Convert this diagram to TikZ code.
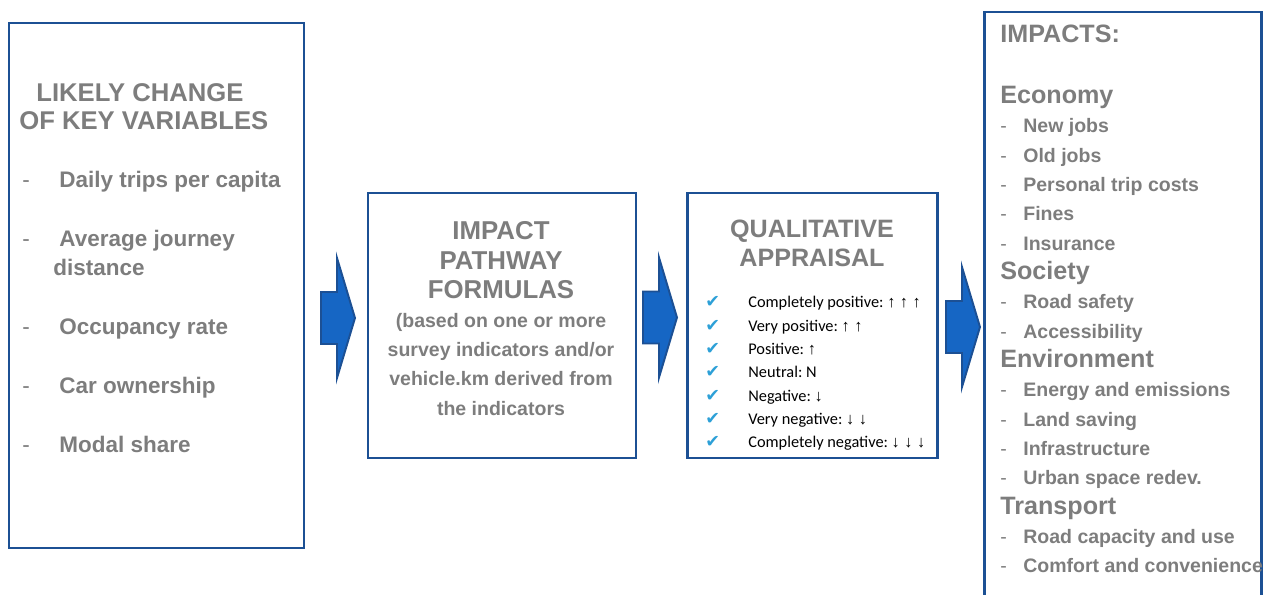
\documentclass[tikz,border=0pt]{standalone}
\usepackage{fontspec}
\setmainfont{Liberation Sans}
\newfontfamily\calfont{Carlito}
\newfontfamily\symfont{DejaVu Sans}
\newfontfamily\arrfont{Liberation Sans}
\usetikzlibrary{positioning}

\definecolor{frameblue}{RGB}{28,80,148}
\definecolor{arrowblue}{RGB}{22,102,196}
\definecolor{textgray}{RGB}{125,125,125}
\definecolor{tickblue}{RGB}{45,160,215}

\newcommand{\itm}[2]{\makebox[#1][l]{\mdseries -}#2}
\newcommand{\impitem}[1]{{\fontsize{11.1}{16.7}\selectfont\itm{0.46cm}{#1}}}
\newcommand{\chk}{\makebox[0.86cm][l]{\textcolor{tickblue}{\symfont\fontsize{10}{10}\selectfont ✔}}}

\begin{document}
\frenchspacing
\begin{tikzpicture}[
    panel/.style={rectangle, draw=frameblue, line width=1.7pt, inner sep=0pt, outer sep=0pt},
    gtext/.style={text=textgray, inner sep=0pt, font=\bfseries},
    arrowshape/.style={fill=arrowblue, draw=frameblue, line width=1.1pt, line join=miter},
    blockarrow/.pic={\draw[arrowshape] (0,0.52) -- (0.32,0.52) -- (0.32,1.2) -- (0.68,0)
        -- (0.32,-1.2) -- (0.32,-0.52) -- (0,-0.52) -- cycle;}]

    \useasboundingbox (0,0) rectangle (25.28,-11.9);

    % boxes
    \node[panel, minimum width=5.9cm, minimum height=10.5cm] (vars) at (3.13,-5.71) {};
    \node[panel, minimum width=5.36cm, minimum height=5.3cm] (paths) at (10.04,-6.51) {};
    \node[panel, minimum width=5.0cm, minimum height=5.3cm] (qual) at (16.24,-6.51) {};
    \node[panel, minimum width=5.54cm, minimum height=12.56cm] (impacts) at (22.45,-6.52) {};

    % block arrows
    \pic at (6.42,-6.36) {blockarrow};
    \pic at (12.86,-6.35) {blockarrow};
    \pic at (18.92,-6.54) {blockarrow};

    % likely change of key variables
    \node[gtext, anchor=base west, text width=5.6cm, align=flush left,
        font=\bfseries\fontsize{14.6}{15.9}\selectfont] (varstitle) at (0.38,-2.04)
        {\hspace*{0.34cm}LIKELY CHANGE\\OF KEY VARIABLES};
    \node[gtext, anchor=base west, text width=5.6cm, align=flush left,
        font=\bfseries\fontsize{12.8}{16.5}\selectfont] (varslist) at (0.44,-3.76)
        {\itm{0.74cm}{Daily trips per capita}\\[0.6cm]
         \itm{0.74cm}{Average journey}\\
         \hspace*{0.62cm}distance\\[0.6cm]
         \itm{0.74cm}{Occupancy rate}\\[0.6cm]
         \itm{0.74cm}{Car ownership}\\[0.6cm]
         \itm{0.74cm}{Modal share}};

    % impact pathway formulas
    \node[gtext, anchor=base, text width=5.3cm, align=flush center,
        font=\bfseries\fontsize{14.7}{16.6}\selectfont] (pathstext) at (10.02,-4.80)
        {IMPACT\\PATHWAY\\FORMULAS\\\fontsize{11.1}{16.6}\selectfont
         (based on one or more\\survey indicators and/or\\vehicle.km derived from\\the indicators};

    % qualitative appraisal
    \node[gtext, anchor=base, text width=4.8cm, align=flush center,
        font=\bfseries\fontsize{14.3}{16.5}\selectfont] (qualtitle) at (16.24,-4.76)
        {QUALITATIVE\\APPRAISAL};
    \node[anchor=base west, inner sep=0pt, text width=4.8cm, align=flush left,
        font=\calfont\fontsize{9.3}{13.26}\selectfont] (scale) at (14.10,-6.16)
        {\chk Completely positive: {\arrfont ↑ ↑ ↑}\\
         \chk Very positive: {\arrfont ↑ ↑}\\
         \chk Positive: {\arrfont ↑}\\
         \chk Neutral: N\\
         \chk Negative: {\arrfont ↓}\\
         \chk Very negative: {\arrfont ↓ ↓}\\
         \chk Completely negative: {\arrfont ↓ ↓ ↓}};

    % impacts
    \node[gtext, anchor=base west, text width=6cm, align=flush left,
        font=\bfseries\fontsize{14.3}{16.7}\selectfont] (impactlist) at (20.0,-0.86)
        {IMPACTS:\\[0.62cm]
         Economy\\
         \impitem{New jobs}\\
         \impitem{Old jobs}\\
         \impitem{Personal trip costs}\\
         \impitem{Fines}\\
         \impitem{Insurance}\\
         Society\\
         \impitem{Road safety}\\
         \impitem{Accessibility}\\
         Environment\\
         \impitem{Energy and emissions}\\
         \impitem{Land saving}\\
         \impitem{Infrastructure}\\
         \impitem{Urban space redev.}\\
         Transport\\
         \impitem{Road capacity and use}\\
         \impitem{Comfort and convenience}};
\end{tikzpicture}
\end{document}
